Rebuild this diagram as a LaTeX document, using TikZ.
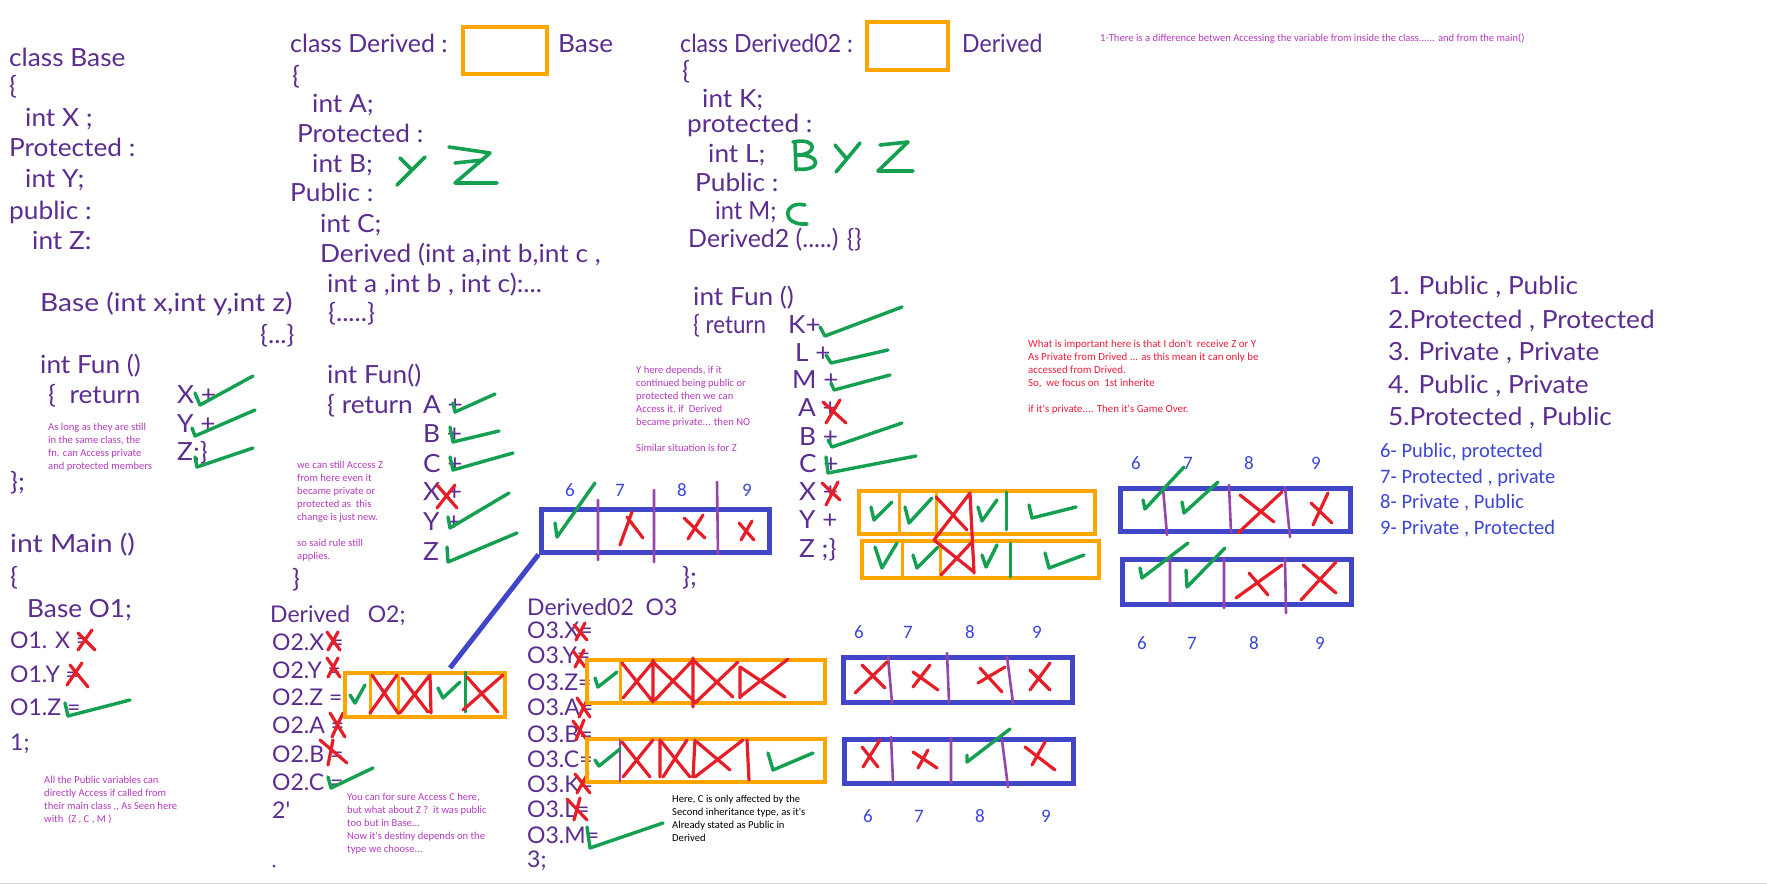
\documentclass[tikz,border=0pt]{standalone}
\usepackage{fontspec}
\usepackage{graphicx}
\newfontfamily\hand[FakeStretch=1.05]{Lato}
\newfontfamily\handn{Lato}
\newfontfamily\notef{Carlito}
\definecolor{hwc}{RGB}{92,45,145}
\definecolor{ntc}{RGB}{180,60,190}
\definecolor{rnc}{RGB}{235,30,60}
\definecolor{blc}{RGB}{60,70,215}
\definecolor{gc}{RGB}{20,160,80}
\definecolor{rc}{RGB}{230,30,40}
\definecolor{oc}{RGB}{255,165,0}
\definecolor{bc}{RGB}{65,70,200}
\definecolor{pc}{RGB}{150,70,170}
\tikzset{
 hw/.style={font=\hand\fontsize{25}{29}\selectfont, text=hwc, anchor=base west, inner sep=0pt},
 hwn/.style={font=\handn\fontsize{23}{27}\selectfont, text=hwc, anchor=base west, inner sep=0pt},
 nt/.style={font=\notef\fontsize{10.6}{13}\selectfont, text=ntc, anchor=base west, inner sep=0pt, align=left},
 bl/.style={font=\notef\fontsize{20.5}{26}\selectfont, text=blc, anchor=base west, inner sep=0pt},
 num/.style={font=\notef\fontsize{19}{22}\selectfont, text=blc, anchor=center, inner sep=0pt},
 chk/.style={draw=gc, line width=3.4pt, line cap=round, line join=round},
 crs/.style={draw=rc, line width=3.2pt, line cap=round, line join=round},
 obox/.style={draw=oc, line width=4pt, inner sep=0pt, minimum width=#1},
 bbox/.style={draw=bc, line width=5pt, inner sep=0pt, minimum width=#1},
 odiv/.style={draw=oc, line width=3pt},
 pdiv/.style={draw=pc, line width=2.6pt, line cap=round},
 gdiv/.style={draw=gc, line width=3pt, line cap=round},
 glet/.style={draw=gc, line width=3.6pt, line cap=round, line join=round},
}
\begin{document}
\begin{tikzpicture}[x=1pt,y=-1pt]
\useasboundingbox (0,0) rectangle (1767,885);
\fill[white] (0,0) rectangle (1767,885);
\draw[black!15, line width=1pt] (0,883) -- (1767,883);

% ---------- class Base ----------
\node[hw] (a1) at (9,67) {class Base};
\node[hw] (a2) at (9,95) {\{};
\node[hw] (a3) at (25,127) {int X ;};
\node[hw] (a4) at (9,157) {Protected :};
\node[hw] (a5) at (25,188) {int Y;};
\node[hw] (a6) at (9,220) {public :};
\node[hw] (a7) at (32,250) {int Z:};
\node[hw] (a8) at (40,312) {\scalebox{1.07}[1]{Base (int x,int y,int z)}};
\node[hw] (a9) at (260,343) {\{...\}};
\node[hw] (a10) at (40,373) {int Fun ()};
\node[hw] (a11) at (48,403) {\{\ \ return};
\node[hw] (a12) at (177,403) {X +};
\node[hw] (a13) at (177,432) {Y +};
\node[hw] (a14) at (177,460) {Z;\}};
\node[hw] (a15) at (10,490) {\};};
\node[nt] (na) at (48,469) {As long as they are still\\in the same class, the\\fn. can Access private\\and protected members};
\draw[chk] (195,393) -- (200,405) -- (253,376);
\draw[chk] (192,428) -- (195,436) -- (255,410);
\draw[chk] (195,457) -- (197,467) -- (253,448);

% ---------- main ----------
\node[hw] (m1) at (10,552) {\scalebox{1.08}[1]{int Main ()}};
\node[hw] (m2) at (10,585) {\{};
\node[hw] (m3) at (27,617) {Base O1;};
\node[hwn] (m4) at (10,648) {O1. X =};
\node[hwn] (m5) at (10,682) {O1.Y =};
\node[hwn] (m6) at (10,715) {O1.Z =};
\node[hwn] (m7) at (10,750) {1;};
\node[nt] (nm) at (44,822) {All the Public variables can\\directly Access if called from\\their main class ,, As Seen here\\with\ \ (Z , C , M )};
\draw[crs] (78,633) -- (95,650) (78,650) -- (92,630);
\draw[crs] (70,665) -- (88,687) (67,685) -- (82,663);
\draw[chk] (65,703) -- (68,716) -- (130,700);

% ---------- class Derived ----------
\node[hw] (d1) at (290,53) {\scalebox{0.95}[1]{class Derived :}};
\node[obox=84pt, minimum height=47pt] (dbox) at (505,50.5) {};
\node[hw] (d2) at (558,53) {Base};
\node[hw] (d3) at (292,85) {\{};
\node[hw] (d4) at (312,113) {int A;};
\node[hw] (d5) at (297,143) {Protected :};
\node[hw] (d6) at (312,173) {int B;};
\node[hw] (d7) at (290,202) {Public :};
\node[hw] (d8) at (320,233) {int C;};
\node[hw] (d9) at (320,263) {Derived (int a,int b,int c ,};
\node[hw] (d10) at (327,293) {int a ,int b , int c):...};
\node[hw] (d11) at (328,322) {\{.....\}};
\draw[glet] (397,185) -- (425,157) (400,158) -- (412,170);
\draw[glet] (449,147) -- (490,153) -- (455,183) -- (497,183) (455,163) -- (483,160);
\node[hw] (d12) at (327,383) {int Fun()};
\node[hw] (d13) at (327,413) {\{ return};
\node[hw] (d13b) at (423,413) {A +};
\node[hw] (d14) at (423,442) {B +};
\node[hw] (d15) at (423,472) {C +};
\node[hw] (d16) at (423,500) {X +};
\node[hw] (d17) at (423,530) {Y +};
\node[hw] (d18) at (423,560) {Z};
\node[hw] (d19) at (292,587) {\}};
\node[nt] (nd) at (297,559) {we can still Access Z\\from here even it\\became private or\\protected as\ \ this\\change is just new.\\[13pt]so said rule still\\applies.};
\draw[chk] (453,403) -- (455,412) -- (495,394);
\draw[chk] (450,427) -- (453,442) -- (499,431);
\draw[chk] (450,457) -- (453,470) -- (513,453);
\draw[crs] (437,485) -- (457,508) (437,508) -- (455,485);
\draw[chk] (448,517) -- (450,528) -- (509,493);
\draw[chk] (447,547) -- (448,562) -- (517,533);

% ---------- Derived O2 ----------
\node[hwn] (e1) at (270,622) {Derived\ \ \ O2;};
\node[hwn] (e2) at (272,650) {O2.X =};
\node[hwn] (e3) at (272,678) {O2.Y =};
\node[hwn] (e4) at (272,705) {O2.Z =};
\node[hwn] (e5) at (272,733) {O2.A =};
\node[hwn] (e6) at (272,762) {O2.B =};
\node[hwn] (e7) at (272,790) {O2.C =};
\node[hwn] (e8) at (272,818) {2'};
\fill[hwc] (274,866) circle (1.5);
\draw[crs] (327,632) -- (340,650) (338,632) -- (328,650);
\draw[crs] (327,658) -- (340,677) (338,658) -- (328,677);
\draw[crs] (330,713) -- (345,737) (343,713) -- (332,737);
\draw[crs] (320,740) -- (347,763) (333,740) -- (328,765);
\draw[chk] (328,777) -- (331,788) -- (373,768);
\node[obox=160pt, minimum height=44pt] (o2box) at (425,695) {};
\draw[odiv] (370,673) -- (370,717) (398,673) -- (398,717);
\draw[chk] (350,695) -- (355,703) -- (365,685);
\draw[crs] (372,675) -- (398,713) (370,713) -- (397,675);
\draw[crs] (400,713) -- (430,675) (402,678) -- (428,712) (430,675) -- (431,713);
\draw[chk] (438,688) -- (443,698) -- (460,682);
\draw[gdiv] (465,672) -- (465,712);
\draw[crs] (463,710) -- (503,675) (467,677) -- (498,712);
\node[nt] (ne) at (347,852) {You can for sure Access C here,\\but what about Z ?\ \ it was public\\too but in Base...\\Now it's destiny depends on the\\type we choose...};

% ---------- blue box top middle ----------
\node[bbox=228pt, minimum height=43pt] (blue1) at (655,530.5) {};
\coordinate (lineStart) at (450,668);
\draw[draw=bc, line width=5pt] (lineStart) -- (blue1.south west);
\draw[pdiv] (598,500) -- (598,560) (654,490) -- (654,562) (717,482) -- (718,554);
\node[num] (b6) at (570,490) {6};
\node[num] (b7) at (620,490) {7};
\node[num] (b8) at (682,490) {8};
\node[num] (b9) at (747,490) {9};
\draw[chk] (555,523) -- (557,537) -- (595,483);
\draw[crs] (620,545) -- (632,512) (627,517) -- (643,538);
\draw[crs] (684,518) -- (705,538) (688,539) -- (703,515);
\draw[crs] (739,523) -- (754,540) (741,540) -- (752,521);
\node[hw] (f1) at (682,585) {\};};

% ---------- notes middle ----------
\node[nt] (ny) at (636,451) {Y here depends, if it\\continued being public or\\protected then we can\\Access it, if\ \ Derived\\became private... then NO\\[13pt]Similar situation is for Z};

% ---------- class Derived02 ----------
\node[hw] (g1) at (680,53) {\scalebox{0.88}[1]{class Derived02 :}};
\node[obox=81pt, minimum height=48pt] (d2box) at (907.5,46) {};
\node[hw] (g2) at (962,53) {\scalebox{0.88}[1]{Derived}};
\node[hw] (g3) at (682,80) {\{};
\node[hw] (g4) at (702,108) {int K;};
\node[hw] (g5) at (687,133) {protected :};
\node[hw] (g6) at (708,163) {int L;};
\node[hw] (g7) at (695,192) {Public :};
\node[hw] (g8) at (715,220) {\scalebox{0.9}[1]{int M;}};
\node[hw] (g9) at (688,248) {\scalebox{0.95}[1]{Derived2 (.....) \{\}}};
\draw[glet] (795,142) -- (796,170) (793,142) .. controls (818,137) and (818,155) .. (797,155) .. controls (822,154) and (822,172) .. (796,169);
\draw[glet] (835,145) -- (846,158) (860,143) -- (836,172);
\draw[glet] (880,145) -- (908,142) -- (878,171) -- (913,171);
\draw[glet] (805,205) .. controls (783,200) and (780,226) .. (807,224);
\node[hw] (g10) at (693,306) {int Fun ()};
\node[hw] (g11) at (693,334) {\scalebox{0.85}[1]{\{ return}};
\node[hw] (g11b) at (788,334) {K+};
\node[hw] (g12) at (795,361) {L +};
\node[hw] (g13) at (792,388) {M +};
\node[hw] (g14) at (798,416) {A +};
\node[hw] (g15) at (799,445) {B +};
\node[hw] (g16) at (799,472) {C +};
\node[hw] (g17) at (799,500) {X +};
\node[hw] (g18) at (799,528) {Y +};
\node[hw] (g19) at (799,557) {Z ;\}};
\draw[chk] (820,327) -- (825,336) -- (902,307);
\draw[chk] (826,355) -- (831,363) -- (888,350);
\draw[chk] (831,383) -- (834,390) -- (890,375);
\draw[crs] (823,402) -- (846,423) (826,423) -- (840,400);
\draw[chk] (828,440) -- (832,447) -- (902,423);
\draw[chk] (826,457) -- (828,473) -- (916,456);
\draw[crs] (822,483) -- (840,500) (826,505) -- (838,482);

% ---------- orange boxes A and B ----------
\node[obox=236pt, minimum height=43pt] (boxA) at (977,512.5) {};
\node[obox=237pt, minimum height=37pt] (boxB) at (980.5,559.5) {};
\draw[odiv] (899,491) -- (899,534) (936,491) -- (936,534);
\draw[odiv] (902,541) -- (902,578) (940,541) -- (940,578);
\draw[chk] (871,507) -- (874,520) -- (892,502);
\draw[chk] (905,507) -- (909,523) -- (932,498);
\draw[chk] (978,507) -- (982,521) -- (997,500);
\draw[gdiv] (1006,492) -- (1006,530);
\draw[chk] (1029,505) -- (1032,518) -- (1076,507);
\draw[chk] (875,547) -- (882,568) -- (897,543);
\draw[chk] (913,555) -- (917,568) -- (938,547);
\draw[chk] (982,555) -- (986,567) -- (997,545);
\draw[gdiv] (1010,543) -- (1010,577);
\draw[chk] (1045,553) -- (1049,568) -- (1084,555);
\draw[crs] (936,497) -- (967,530) (970,493) -- (934,540) -- (974,572) (941,575) -- (972,542) (970,493) -- (974,573);

% ---------- red note ----------
\node[nt, text=rnc, font=\notef\fontsize{10.9}{13}\selectfont] (nr) at (1028,412) {What is important here is that I don't\ \ receive Z or Y\\As Private from Drived ... as this mean it can only be\\accessed from Drived.\\So,\ \ we focus on\ \ 1st inherite\\[13pt]if it's private.... Then it's Game Over.};

% ---------- top note ----------
\node[nt] (ntop) at (1100,42) {1-There is a difference betwen Accessing the variable from inside the class...... and from the main()};

% ---------- right blue boxes ----------
\node[num] (r6) at (1136,463) {6};
\node[num] (r7) at (1188,463) {7};
\node[num] (r8) at (1249,463) {8};
\node[num] (r9) at (1316,463) {9};
\node[bbox=230pt, minimum height=43pt] (blue2) at (1235,509.5) {};
\draw[pdiv] (1163,488) -- (1167,535) (1229,485) -- (1231,532) (1285,487) -- (1290,537);
\draw[chk] (1143,500) -- (1145,509) -- (1184,467);
\draw[chk] (1182,502) -- (1184,513) -- (1218,482);
\draw[crs] (1240,495) -- (1274,522) (1238,533) -- (1282,492);
\draw[crs] (1311,503) -- (1332,523) (1313,525) -- (1328,493);
\node[bbox=229pt, minimum height=45pt] (blue3) at (1236.5,581.5) {};
\draw[pdiv] (1170,558) -- (1170,603) (1224,558) -- (1224,608) (1285,558) -- (1286,613);
\draw[chk] (1140,568) -- (1142,578) -- (1188,543);
\draw[chk] (1186,570) -- (1187,587) -- (1225,548);
\draw[crs] (1236,598) -- (1282,565) (1249,573) -- (1268,595);
\draw[crs] (1301,600) -- (1336,562) (1303,565) -- (1336,593);
\node[num] (s6) at (1142,643) {6};
\node[num] (s7) at (1192,643) {7};
\node[num] (s8) at (1254,643) {8};
\node[num] (s9) at (1320,643) {9};

% ---------- right list ----------
\node[hw] (l1) at (1388,295) {1. Public , Public};
\node[hw] (l2) at (1388,328) {2.Protected , Protected};
\node[hw] (l3) at (1388,360) {3. Private , Private};
\node[hw] (l4) at (1388,393) {4. Public , Private};
\node[hw] (l5) at (1388,425) {5.Protected , Public};
\node[bl] (l6) at (1380,457) {6- Public, protected};
\node[bl] (l7) at (1380,483) {7- Protected , private};
\node[bl] (l8) at (1380,508) {8- Private , Public};
\node[bl] (l9) at (1380,534) {9- Private , Protected};

% ---------- Derived02 O3 ----------
\node[hwn] (h1) at (527,615) {Derived02\ \ O3};
\node[hwn] (h2) at (527,638) {O3.X=};
\node[hwn] (h3) at (527,663) {O3.Y=};
\node[hwn] (h4) at (527,690) {O3.Z=};
\node[hwn] (h5) at (527,715) {O3.A=};
\node[hwn] (h6) at (527,742) {O3.B=};
\node[hwn] (h7) at (527,767) {O3.C=};
\node[hwn] (h8) at (527,792) {O3.K=};
\node[hwn] (h9) at (527,817) {O3.L=};
\node[hwn] (h10) at (527,843) {O3.M=};
\node[hwn] (h11) at (527,867) {3;};
\draw[crs] (574,625) -- (587,640) (585,623) -- (576,640);
\draw[crs] (573,651) -- (585,667) (584,650) -- (575,667);
\draw[crs] (577,698) -- (590,717) (588,698) -- (579,717);
\draw[crs] (573,721) -- (587,740) (584,720) -- (576,740);
\draw[crs] (575,774) -- (590,793) (588,773) -- (577,793);
\draw[crs] (567,799) -- (587,820) (580,798) -- (574,820);
\draw[chk] (587,827) -- (590,848) -- (663,823);
\node[obox=238pt, minimum height=43pt] (o3box1) at (706,681.5) {};
\draw[odiv] (620,660) -- (620,703);
\draw[chk] (595,678) -- (598,687) -- (617,672);
\draw[crs] (622,663) -- (653,702) (623,698) -- (653,662) (653,660) -- (653,702);
\draw[crs] (653,662) -- (695,702) (655,700) -- (693,660) (693,658) -- (693,707);
\draw[crs] (693,660) -- (733,697) (695,703) -- (738,662) (740,667) -- (740,698);
\draw[crs] (740,667) -- (785,697) (740,697) -- (788,659);
\node[obox=238pt, minimum height=43pt] (o3box2) at (706,760.5) {};
\draw[pdiv] (620,740) -- (620,781);
\draw[chk] (595,760) -- (599,766) -- (620,749);
\draw[crs] (622,742) -- (650,777) (623,777) -- (653,740) (660,740) -- (660,777);
\draw[crs] (660,740) -- (690,777) (663,777) -- (687,740) (695,740) -- (693,777);
\draw[crs] (695,777) -- (743,740) (697,742) -- (730,770) (747,740) -- (749,780);
\draw[chk] (768,753) -- (773,770) -- (813,753);
\node[nt, text=black] (nb) at (672,841) {Here, C is only affected by the\\Second inheritance type, as it's\\Already stated as Public in\\Derived};

% ---------- middle blue boxes ----------
\node[num] (c6) at (859,632) {6};
\node[num] (c7) at (908,632) {7};
\node[num] (c8) at (970,632) {8};
\node[num] (c9) at (1037,632) {9};
\node[bbox=229pt, minimum height=45pt] (blue4) at (957.5,679.5) {};
\draw[pdiv] (888,657) -- (892,703) (947,653) -- (949,702) (1007,657) -- (1013,703);
\draw[crs] (855,693) -- (887,662) (862,665) -- (885,688);
\draw[crs] (913,687) -- (930,665) (913,672) -- (938,690);
\draw[crs] (980,668) -- (1002,692) (978,683) -- (1005,667);
\draw[crs] (1030,670) -- (1050,690) (1030,690) -- (1050,663);
\node[bbox=229pt, minimum height=44pt] (blue5) at (958.5,761) {};
\draw[pdiv] (891,737) -- (893,782) (951,738) -- (951,783) (1002,740) -- (1008,787);
\draw[crs] (863,767) -- (880,740) (862,747) -- (878,767);
\draw[crs] (913,752) -- (937,768) (918,768) -- (928,750);
\draw[chk] (967,755) -- (967,762) -- (1010,729);
\draw[crs] (1025,747) -- (1055,770) (1032,765) -- (1045,742);
\node[num] (q6) at (868,816) {6};
\node[num] (q7) at (919,816) {7};
\node[num] (q8) at (980,816) {8};
\node[num] (q9) at (1046,816) {9};
\end{tikzpicture}
\end{document}
